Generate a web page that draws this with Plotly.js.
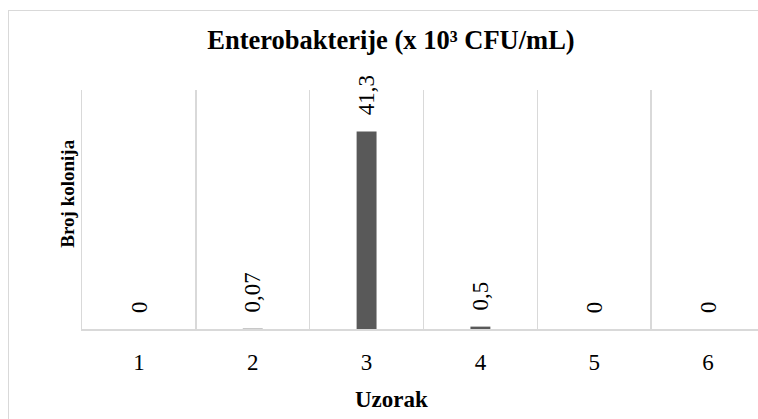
<!DOCTYPE html>
<html>
<head>
<meta charset="utf-8">
<script src="https://cdn.plot.ly/plotly-3.0.1.min.js"></script>
<style>
  html, body { margin: 0; padding: 0; background: #ffffff; font-family: 'Liberation Serif', serif; }
  #chart { position: absolute; left: 8px; top: 10px; width: 750px; height: 409px; border-left: 1.5px solid #d9d9d9; border-top: 1.5px solid #d9d9d9; box-sizing: border-box; }
  #chart text { font-family: 'Liberation Serif', 'Times New Roman', serif !important; }
</style>
</head>
<body>
<div id="chart"></div>
<script>
// Data
const categories = ['1', '2', '3', '4', '5', '6'];
const values = [0, 0.07, 41.3, 0.5, 0, 0];
const valueLabels = ['0', '0,07', '41,3', '0,5', '0', '0'];
const chartTitle = 'Enterobakterije (x 10³ CFU/mL)';
const xTitle = 'Uzorak';
const yTitle = 'Broj kolonija';

const positions = categories.map((c, i) => i + 1);
const serif = 'Liberation Serif';

const trace = {
  type: 'bar',
  x: positions,
  y: values,
  width: 0.175,
  marker: { color: '#595959' },
  hoverinfo: 'skip'
};

const labelAnnotations = positions.map((p, i) => ({
  x: p,
  y: values[i],
  xref: 'x',
  yref: 'y',
  text: valueLabels[i],
  textangle: -90,
  showarrow: false,
  xanchor: 'center',
  yanchor: 'bottom',
  yshift: 14,
  font: { family: serif, size: 23, color: '#000000' }
}));

// plot area in page pixels: left 82, right 758 (cropped), top 90, bottom 329
const W = 748.5, H = 407.5;
const ml = 82 - 9.5, mt = 90 - 11.5;
const mb = H - (329 - 11.5);
const plotW = W - ml, plotH = H - mt - mb;

const layout = {
  width: W,
  height: H,
  margin: { l: ml, r: 0, t: mt, b: mb, pad: 0 },
  paper_bgcolor: '#ffffff',
  plot_bgcolor: '#ffffff',
  showlegend: false,
  font: { family: serif, color: '#000000' },
  title: {
    text: '<b>' + chartTitle + '</b>',
    x: (391.5 - 9.5) / W,
    xref: 'container',
    xanchor: 'center',
    y: 1 - (40 - 11.5) / H,
    yref: 'container',
    yanchor: 'middle',
    font: { family: serif, size: 26.5, color: '#000000' }
  },
  xaxis: {
    range: [0.5, 0.5 + (758 - 82) / 113.83],
    tickmode: 'array',
    tickvals: positions,
    ticktext: categories,
    ticks: '',
    ticklabelstandoff: 12,
    showgrid: false,
    zeroline: false,
    showline: true,
    linecolor: '#d9d9d9',
    linewidth: 1.5,
    tickfont: { family: serif, size: 23, color: '#000000' },
    minor: {
      tickmode: 'linear',
      tick0: 0.5,
      dtick: 1,
      showgrid: true,
      gridcolor: '#d9d9d9',
      gridwidth: 1.5,
      ticks: ''
    },
    fixedrange: true
  },
  yaxis: {
    range: [0, 50],
    showticklabels: false,
    ticks: '',
    showgrid: false,
    zeroline: false,
    showline: true,
    linecolor: '#d9d9d9',
    linewidth: 1.5,
    fixedrange: true
  },
  annotations: labelAnnotations.concat([
    {
      xref: 'paper', yref: 'paper',
      x: (391.3 - 82) / plotW, y: (329 - 399) / plotH,
      xanchor: 'center', yanchor: 'middle',
      text: '<b>' + xTitle + '</b>',
      showarrow: false,
      font: { family: serif, size: 23, color: '#000000' }
    },
    {
      xref: 'paper', yref: 'paper',
      x: (66.7 - 82) / plotW, y: (329 - 194) / plotH,
      xanchor: 'center', yanchor: 'middle',
      text: '<b>' + yTitle + '</b>',
      textangle: -90,
      showarrow: false,
      font: { family: serif, size: 19, color: '#000000' }
    }
  ])
};

Plotly.newPlot('chart', [trace], layout, { displayModeBar: false, staticPlot: true });
</script>
</body>
</html>
